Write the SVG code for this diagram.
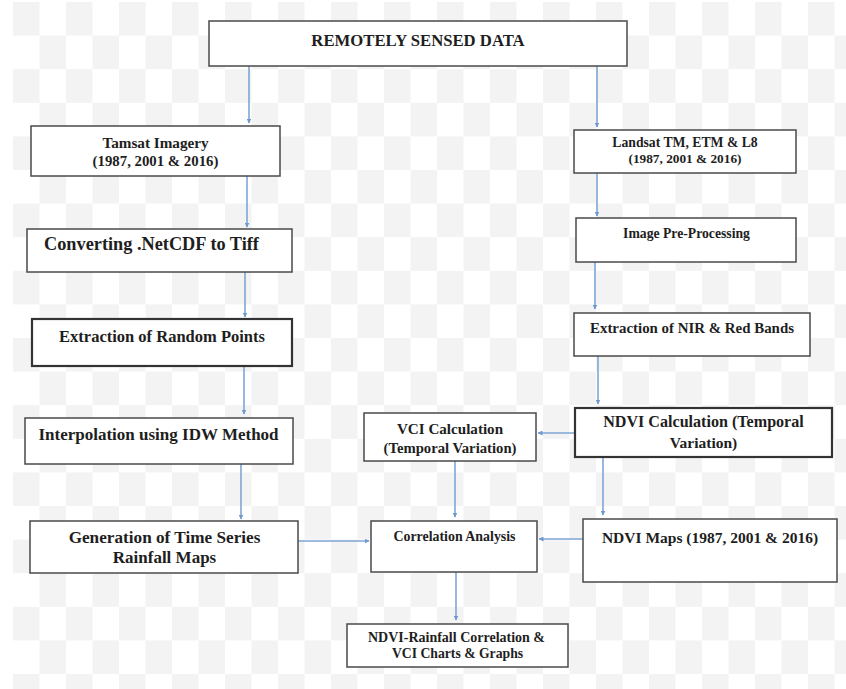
<svg xmlns="http://www.w3.org/2000/svg" width="846" height="689" viewBox="0 0 846 689">
<style>
.box{fill:#ffffff;stroke:#4a4a4a;stroke-width:1.5}
.thick{stroke-width:2.2;stroke:#333}
.t{font-family:'Liberation Serif','DejaVu Serif',serif;font-weight:700;fill:#1e1e1e;text-anchor:middle}
.c{fill:none;stroke:#7fa6d6;stroke-width:1.6}
</style>
<defs>
<pattern id="chk" patternUnits="userSpaceOnUse" x="13" y="2" width="53" height="67.2">
<rect x="0" y="0" width="26.5" height="33.6" fill="#f3f3f3"/>
<rect x="26.5" y="33.6" width="26.5" height="33.6" fill="#f3f3f3"/>
</pattern>
<marker id="ah" viewBox="0 0 10 10" refX="9" refY="5" markerWidth="5" markerHeight="5" orient="auto" markerUnits="userSpaceOnUse">
<path d="M0,0 L10,5 L0,10 z" fill="#6f98cc"/>
</marker>
</defs>
<rect width="846" height="689" fill="#ffffff"/>
<rect x="13" y="2" width="833" height="687" fill="url(#chk)"/>

<g id="connectors">
<line class="c" x1="249" y1="66" x2="249" y2="123" marker-end="url(#ah)"/>
<line class="c" x1="597" y1="66" x2="597" y2="127" marker-end="url(#ah)"/>
<line class="c" x1="247" y1="176" x2="247" y2="227" marker-end="url(#ah)"/>
<line class="c" x1="597" y1="173" x2="597" y2="216" marker-end="url(#ah)"/>
<line class="c" x1="245" y1="272" x2="245" y2="317" marker-end="url(#ah)"/>
<line class="c" x1="595" y1="262" x2="595" y2="309" marker-end="url(#ah)"/>
<line class="c" x1="244" y1="366" x2="244" y2="414" marker-end="url(#ah)"/>
<line class="c" x1="598" y1="356" x2="598" y2="404" marker-end="url(#ah)"/>
<line class="c" x1="575" y1="433" x2="538" y2="433" marker-end="url(#ah)"/>
<line class="c" x1="455" y1="461" x2="455" y2="517" marker-end="url(#ah)"/>
<line class="c" x1="603" y1="457" x2="603" y2="515" marker-end="url(#ah)"/>
<line class="c" x1="241" y1="464" x2="241" y2="519" marker-end="url(#ah)"/>
<line class="c" x1="298" y1="541" x2="369" y2="541" marker-end="url(#ah)"/>
<line class="c" x1="583" y1="539" x2="539" y2="539" marker-end="url(#ah)"/>
<line class="c" x1="456" y1="572" x2="456" y2="620" marker-end="url(#ah)"/>
</g>

<g id="remotely-sensed-data">
<rect class="box" x="209" y="21" width="418" height="45"/>
<text class="t" x="418" y="46" font-size="16.7">REMOTELY SENSED DATA</text>
</g>
<g id="tamsat-imagery">
<rect class="box" x="31" y="126" width="249" height="50"/>
<text class="t" x="155.5" y="148" font-size="15.2">Tamsat Imagery</text>
<text class="t" x="155.5" y="166" font-size="14.8">(1987, 2001 &amp; 2016)</text>
</g>
<g id="landsat">
<rect class="box" x="574" y="130" width="222" height="43"/>
<text class="t" x="685" y="147" font-size="13.7">Landsat TM, ETM &amp; L8</text>
<text class="t" x="685" y="163" font-size="13.3">(1987, 2001 &amp; 2016)</text>
</g>
<g id="converting">
<rect class="box" x="27" y="229" width="265" height="43"/>
<text class="t" x="151.5" y="250" font-size="18.3">Converting .NetCDF to Tiff</text>
</g>
<g id="image-pre-processing">
<rect class="box" x="576" y="218" width="220" height="44"/>
<text class="t" x="686.5" y="238" font-size="13.7">Image Pre-Processing</text>
</g>
<g id="extraction-random-points">
<rect class="box thick" x="32" y="319" width="260" height="47"/>
<text class="t" x="162" y="342" font-size="16.5">Extraction of Random Points</text>
</g>
<g id="extraction-nir-red">
<rect class="box" x="574" y="313" width="236" height="43"/>
<text class="t" x="692" y="333" font-size="14.9">Extraction of NIR &amp; Red Bands</text>
</g>
<g id="interpolation-idw">
<rect class="box" x="25" y="418" width="268" height="46"/>
<text class="t" x="158.5" y="440" font-size="17">Interpolation using IDW Method</text>
</g>
<g id="vci-calculation">
<rect class="box" x="364" y="413" width="172" height="48"/>
<text class="t" x="450" y="434" font-size="15.1">VCI Calculation</text>
<text class="t" x="450" y="453" font-size="14.7">(Temporal Variation)</text>
</g>
<g id="ndvi-calculation">
<rect class="box thick" x="575" y="408" width="257" height="49"/>
<text class="t" x="703.5" y="427" font-size="16.1">NDVI Calculation (Temporal</text>
<text class="t" x="703.5" y="448" font-size="15.5">Variation)</text>
</g>
<g id="generation-rainfall-maps">
<rect class="box" x="30" y="521" width="268" height="52"/>
<text class="t" x="164.5" y="543" font-size="17.2">Generation of Time Series</text>
<text class="t" x="164.5" y="563" font-size="17">Rainfall Maps</text>
</g>
<g id="correlation-analysis">
<rect class="box" x="371" y="521" width="166" height="51"/>
<text class="t" x="454.5" y="541" font-size="13.9">Correlation Analysis</text>
</g>
<g id="ndvi-maps">
<rect class="box" x="583" y="519" width="254" height="63"/>
<text class="t" x="710" y="543" font-size="15.5">NDVI Maps (1987, 2001 &amp; 2016)</text>
</g>
<g id="output-charts">
<rect class="box" x="347" y="624" width="221" height="43"/>
<text class="t" x="456.5" y="642" font-size="14">NDVI-Rainfall Correlation &amp;</text>
<text class="t" x="457.5" y="658" font-size="13.7">VCI Charts &amp; Graphs</text>
</g>
</svg>
